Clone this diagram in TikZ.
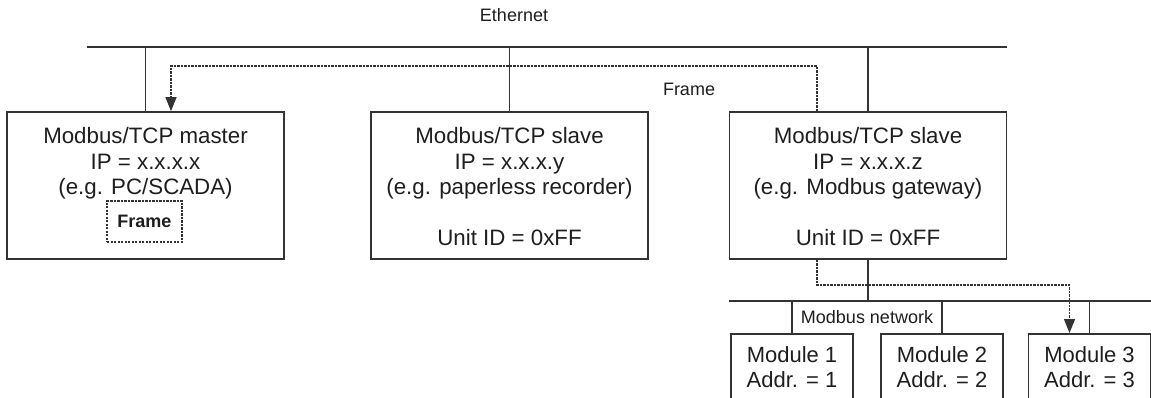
\documentclass[tikz,border=0pt]{standalone}
\usepackage{fontspec}
\setmainfont{Liberation Sans}
\usetikzlibrary{arrows.meta}
\usetikzlibrary{positioning}

\definecolor{linegray}{HTML}{333333}
\definecolor{textgray}{HTML}{1E1E1E}

\begin{document}
\begin{tikzpicture}[x=1pt,y=-1pt,
  wire/.style={draw=linegray,line width=1.7pt},
  flow/.style={draw=linegray,line width=1.2pt,dash pattern=on 2.2pt off 1.3pt},
  tip/.style={-{Triangle[length=14pt,width=11pt]}},
  station/.style={wire,rectangle,minimum width=277pt,minimum height=147pt},
  stationtext/.style={align=center,inner sep=0pt,text=textgray,font=\fontsize{22.3}{25.5}\selectfont},
  module/.style={wire,rectangle,align=center,anchor=north,minimum width=122pt,
    inner xsep=0pt,inner ysep=13pt,text=textgray,font=\fontsize{22}{25}\selectfont},
  small/.style={inner sep=0pt,text=textgray,font=\fontsize{18}{22}\selectfont}]
  \clip (0,0) rectangle (1151,397);
  % Ethernet
  \node[small] (eth) at (514,15) {Ethernet};
  \coordinate (ethL) at (87,47);
  \node[station] (master) at (145.5,185.5) {};
  \node[station] (slave) at (509.5,185.5) {};
  \node[station] (gw) at (868,185.5) {};
  \draw[wire] (ethL) -- (ethL -| gw.east);
  \draw[wire] (master.north) -- (master.north |- ethL);
  \draw[wire] (slave.north) -- (slave.north |- ethL);
  \draw[wire] (gw.north) -- (gw.north |- ethL);
  \node[stationtext,below=16pt of master.north] (mastertxt)
    {Modbus/TCP master\\IP = x.x.x.x\\(e.g. PC/SCADA)};
  \node[stationtext,below=16pt of slave.north] (slavetxt)
    {Modbus/TCP slave\\IP = x.x.x.y\\(e.g. paperless recorder)\\[25.5pt]Unit ID = 0xFF};
  \node[stationtext,below=16pt of gw.north] (gwtxt)
    {Modbus/TCP slave\\IP = x.x.x.z\\(e.g. Modbus gateway)\\[25.5pt]Unit ID = 0xFF};
  \node[small,flow,rectangle,font=\fontsize{18}{22}\selectfont\bfseries,
    minimum width=75pt,minimum height=41pt] (frm) at (144.5,221.5) {Frame};
  % frame path
  \node[small] (framelbl) at (689,89) {Frame};
  \coordinate (turnR) at (817,66);
  \coordinate (turnL) at (171,66);
  \coordinate (turnD) at (817,285);
  \draw[flow,tip] (gw.north -| turnR) -- (turnR) -- (turnL) -- (turnL |- master.north);
  % Modbus network
  \coordinate (mbL) at (729,301);
  \coordinate (mbR) at (1151,301);
  \node[module] (mod1) at (792,333) {Module 1\\Addr. = 1};
  \node[module] (mod2) at (942,333) {Module 2\\Addr. = 2};
  \node[module] (mod3) at (1089.5,333) {Module 3\\Addr. = 3};
  \node[small] (mbnet) at (867,317) {Modbus network};
  \draw[wire] (mbL) -- (mbR);
  \draw[wire] (gw.south) -- (gw.south |- mbL);
  \draw[wire] (mod1.north) -- (mod1.north |- mbL);
  \draw[wire] (mod2.north) -- (mod2.north |- mbL);
  \draw[wire] (mod3.north) -- (mod3.north |- mbL);
  \draw[flow,tip] (gw.south -| turnD) -- (turnD) -| ([xshift=-20pt]mod3.north);
\end{tikzpicture}
\end{document}
